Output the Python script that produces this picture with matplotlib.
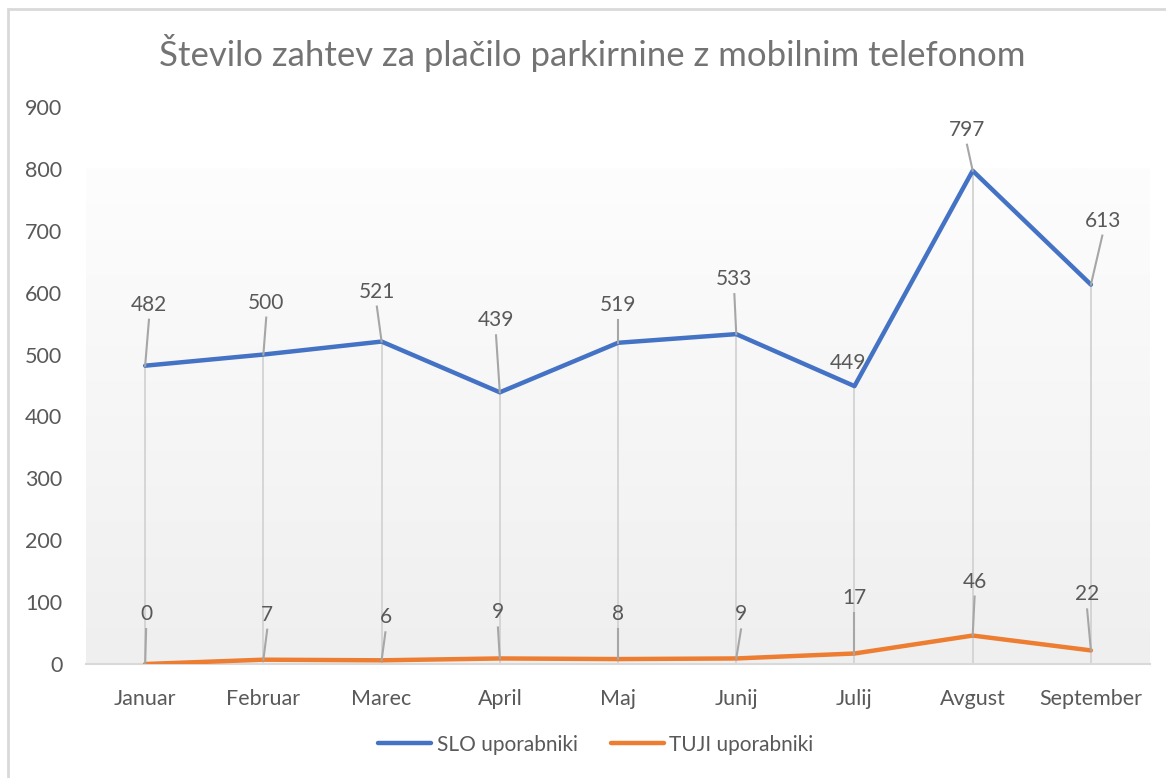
import matplotlib
matplotlib.use("Agg")
import matplotlib.pyplot as plt
import numpy as np
from matplotlib.lines import Line2D
from matplotlib.patches import Rectangle

plt.rcParams["font.family"] = ["Lato", "DejaVu Sans"]

TEXT_GRAY = "#595959"
BLUE = "#4472C4"
ORANGE = "#ED7D31"

months = ["Januar", "Februar", "Marec", "April", "Maj", "Junij", "Julij", "Avgust", "September"]
slo_users = [482, 500, 521, 439, 519, 533, 449, 797, 613]
foreign_users = [0, 7, 6, 9, 8, 9, 17, 46, 22]
y_ticks = [0, 100, 200, 300, 400, 500, 600, 700, 800, 900]

# label offsets in pixels (dx, dy) relative to the data point, as placed in the original
slo_label_offsets = [(4, 61), (3, 52), (-5, 50), (-4, 72), (0, 38), (-2, 55), (-7, 23), (-6, 41), (12, 64)]
tuji_label_offsets = [(1, 50), (4, 45), (4, 43), (-2, 46), (0, 45), (5, 44), (0, 56), (2, 54), (-4, 56)]

fig = plt.figure(figsize=(11.66, 7.78), dpi=100)
ax = fig.add_axes([0.0738, 0.1465, 0.9125, 0.716])

x = np.arange(len(months))
ax.set_xlim(-0.5, len(months) - 0.5)
ax.set_ylim(0, 900)

# plot-area gradient (white at top, light gray at bottom)
grad = np.linspace(0, 1, 256).reshape(-1, 1)
ax.imshow(grad, extent=(-0.5, len(months) - 0.5, 0, 800), aspect="auto",
          cmap=matplotlib.colors.LinearSegmentedColormap.from_list("bg", ["#EFEFEF", "#FDFDFD"]),
          origin="lower", zorder=0)

# drop lines
for xi, top in zip(x, slo_users):
    ax.plot([xi, xi], [0, top], color="#D3D3D3", lw=1.3, zorder=1)

ax.plot(x, slo_users, color=BLUE, lw=3.2, solid_joinstyle="round", solid_capstyle="round", zorder=3)
ax.plot(x, foreign_users, color=ORANGE, lw=3.2, solid_joinstyle="round", solid_capstyle="round", zorder=3)


def label_points(values, offsets):
    inv = ax.transData.inverted()
    for xi, v, (dx, dy) in zip(x, values, offsets):
        ax.annotate(str(v), xy=(xi, v), xytext=(dx, dy), textcoords="offset pixels",
                    ha="center", va="center", fontsize=15, color=TEXT_GRAY, zorder=5)
        # leader line from the point to just under the label
        if dy > 25:
            px, py = ax.transData.transform((xi, v))
            p0 = inv.transform((px, py))
            p1 = inv.transform((px + dx * 0.95, py + dy - 15))
            ax.plot([p0[0], p1[0]], [p0[1], p1[1]], color="#A6A6A6", lw=1.5, zorder=4)


fig.canvas.draw()
label_points(slo_users, slo_label_offsets)
label_points(foreign_users, tuji_label_offsets)

for s in ["top", "right", "left"]:
    ax.spines[s].set_visible(False)
ax.spines["bottom"].set_color("#D9D9D9")
ax.spines["bottom"].set_linewidth(1.5)
ax.spines["bottom"].set_zorder(2)

ax.set_xticks(x)
ax.set_xticklabels(months)
ax.set_yticks(y_ticks)
ax.tick_params(axis="both", length=0, labelsize=15.5, colors=TEXT_GRAY)
ax.tick_params(axis="x", pad=18)
ax.tick_params(axis="y", pad=17)

fig.text(0.508, 0.932, "Število zahtev za plačilo parkirnine z mobilnim telefonom",
         ha="center", va="center", fontsize=25, color="#737373")

handles = [Line2D([], [], color=BLUE, lw=3.2, solid_capstyle="round"),
           Line2D([], [], color=ORANGE, lw=3.2, solid_capstyle="round")]
fig.legend(handles, ["SLO uporabniki", "TUJI uporabniki"], loc="center",
           bbox_to_anchor=(0.511, 0.043), ncol=2, frameon=False, fontsize=15,
           labelcolor=TEXT_GRAY, handlelength=2.55, handletextpad=0.25, columnspacing=1.6)

# chart border (only top and left visible in the crop)
fig.patches.append(Rectangle((8 / 1166, -0.1), 1.2, 1.1 - 9.5 / 778,
                             transform=fig.transFigure, fill=False,
                             edgecolor="#D9D9D9", lw=2))

fig.savefig("out.png", dpi=100)
